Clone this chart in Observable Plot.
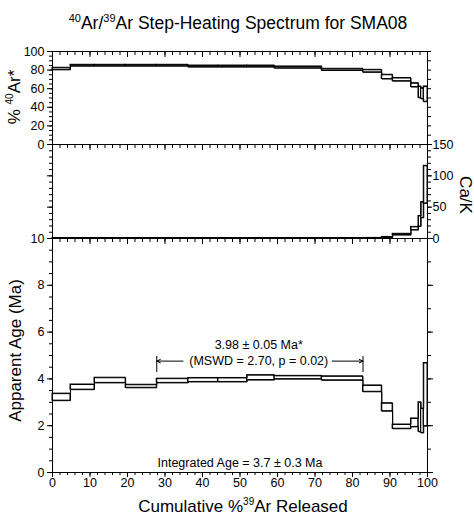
<!DOCTYPE html>
<html><head><meta charset="utf-8">
<script src="https://cdn.jsdelivr.net/npm/d3@7"></script>
<script src="https://cdn.jsdelivr.net/npm/@observablehq/plot@0.6"></script>
<style>
body{margin:0;background:#fff;}
#chart{position:relative;width:474px;height:517px;}
#chart svg{position:absolute;left:0;overflow:visible;background:none;}
</style></head><body><div id="chart"></div>
<script>
// ---- data ----
const stepStart = [0, 4.8, 11.2, 19.5, 27.8, 36.2, 44.2, 51.9, 59.2, 71.8, 82.8, 87.8, 90.7, 95.6, 97.6, 98.3, 99.0];
const ageHi = [3.37, 3.76, 4.05, 3.75, 4.01, 4.04, 4.04, 4.16, 4.13, 4.11, 3.72, 2.96, 2.05, 2.31, 3.00, 2.73, 4.68];
const ageLo = [3.07, 3.54, 3.83, 3.62, 3.83, 3.87, 3.87, 3.95, 3.99, 3.94, 3.45, 2.62, 1.87, 1.95, 1.74, 1.69, 1.98];
const radHi = [82.5, 85.7, 85.7, 85.7, 85.7, 84.9, 84.9, 84.9, 83.9, 81.4, 80.3, 75.0, 71.5, 65.9, 62.4, 60.5, 62.4];
const radLo = [80.3, 84.2, 84.2, 84.2, 84.2, 83.2, 83.2, 83.2, 82.0, 79.6, 77.6, 70.4, 68.1, 61.8, 50.2, 49.0, 46.0];
const caHi  = [0.8, 0.8, 0.8, 0.8, 0.8, 0.8, 0.8, 0.8, 0.8, 0.8, 0.9, 2.5, 7.5, 18.5, 36, 58, 116];
const caLo  = [0.2, 0.2, 0.2, 0.2, 0.2, 0.2, 0.2, 0.2, 0.2, 0.2, 0.3, 1.0, 5.5, 13.5, 19, 33, 56];
const plateauRange = [27.8, 82.8];
const plateauLabel = ["3.98 \u00b1 0.05 Ma*", "(MSWD = 2.70, p = 0.02)"];
const integratedLabel = "Integrated Age = 3.7 \u00b1 0.3 Ma";
const xTicks = d3.range(0, 101, 10);
const xMinor = d3.range(0, 101, 2);
const radTicks = [0, 20, 40, 60, 80, 100];
const caTicks = [0, 50, 100, 150];
const ageTicks = [0, 2, 4, 6, 8, 10];

// ---- helpers ----
const font = '"Liberation Sans", Arial, Helvetica, sans-serif';
const container = document.getElementById("chart");
const stepEnd = stepStart.map((s, i) => i < stepStart.length - 1 ? stepStart[i + 1] : 100);

function rows(hi, lo) {
  return stepStart.map((s, i) => ({x1: s, x2: stepEnd[i], hi: hi[i], lo: lo[i]}));
}
function stepMarks(hi, lo) {
  const r = rows(hi, lo);
  const up = r.map(d => ({x: d.x1, y: d.hi})).concat([{x: 100, y: hi[hi.length - 1]}]);
  const dn = r.map(d => ({x: d.x1, y: d.lo})).concat([{x: 100, y: lo[lo.length - 1]}]);
  return [
    Plot.rect(r, {x1: "x1", x2: "x2", y1: "lo", y2: "hi", fill: "none", stroke: "black", strokeWidth: 1}),
    Plot.line(up, {x: "x", y: "y", curve: "step-after", stroke: "black", strokeWidth: 1}),
    Plot.line(dn, {x: "x", y: "y", curve: "step-after", stroke: "black", strokeWidth: 1})
  ];
}
const noText = () => "";
function topTicks() {
  return [
    Plot.axisX(xMinor, {anchor: "top", tickSize: -3, tickFormat: noText, label: null}),
    Plot.axisX(xTicks, {anchor: "top", tickSize: -5, tickFormat: noText, label: null})
  ];
}
function panel(top, height, mt, mb, yDomain, marks) {
  const svg = Plot.plot({
    width: 474, height, marginLeft: 52, marginRight: 47, marginTop: mt, marginBottom: mb,
    x: {domain: [0, 100]}, y: {domain: yDomain},
    style: {fontFamily: font, fontSize: "12.5px", color: "black", background: "transparent", overflow: "visible"},
    marks
  });
  svg.style.top = top + "px";
  container.append(svg);
  return svg;
}

// ---- top panel: % 40Ar* ----
panel(41, 110, 10, 7, [0, 100], [
  ...stepMarks(radHi, radLo),
  Plot.axisY(d3.range(0, 101, 5), {anchor: "left", tickSize: 3, tickFormat: noText, label: null}),
  Plot.axisY(radTicks, {anchor: "left", tickSize: 5, tickPadding: 3, label: null}),
  Plot.axisY(d3.range(0, 101, 10), {anchor: "right", tickSize: 3, tickFormat: noText, label: null}),
  ...topTicks(),
  Plot.frame({stroke: "black"})
]);

// ---- middle panel: Ca/K ----
panel(134, 114, 10, 10, [0, 150], [
  ...stepMarks(caHi, caLo),
  Plot.axisY(d3.range(0, 151, 10), {anchor: "left", tickSize: 3, tickFormat: noText, label: null}),
  Plot.axisY(caTicks, {anchor: "left", tickSize: 5, tickFormat: noText, label: null}),
  Plot.axisY(d3.range(0, 151, 10), {anchor: "right", tickSize: 3, tickFormat: noText, label: null}),
  Plot.axisY(caTicks, {anchor: "right", tickSize: 4, tickPadding: 1, label: null}),
  ...topTicks(),
  Plot.frame({stroke: "black"})
]);

// ---- bottom panel: apparent age ----
panel(228, 289, 10, 45, [0, 10], [
  ...stepMarks(ageHi, ageLo),
  Plot.ruleX(plateauRange, {y1: 4.27, y2: 4.96, stroke: "black"}),
  Plot.arrow([{a: 34.8, b: plateauRange[0]}, {a: 74.6, b: plateauRange[1]}],
    {x1: "a", x2: "b", y1: () => 4.76, y2: () => 4.76, headLength: 6, headAngle: 50, strokeWidth: 1, stroke: "black"}),
  Plot.text([{t: plateauLabel[0], y: 5.43}, {t: plateauLabel[1], y: 4.76}],
    {x: () => 55, y: "y", text: "t", fontSize: 12.5, fill: "black"}),
  Plot.text([integratedLabel], {x: () => 50, y: () => 0.4, text: d => d, fontSize: 12.5, fill: "black"}),
  Plot.axisY(d3.range(0, 10.01, 0.5), {anchor: "left", tickSize: 3, tickFormat: noText, label: null}),
  Plot.axisY(ageTicks, {anchor: "left", tickSize: 5, tickPadding: 3, label: null}),
  Plot.axisY(d3.range(0, 11, 1), {anchor: "right", tickSize: 3, tickFormat: noText, label: null}),
  Plot.axisY(ageTicks, {anchor: "right", tickSize: 5, tickFormat: noText, label: null}),
  ...topTicks(),
  Plot.axisX(xMinor, {anchor: "bottom", tickSize: 3, tickFormat: noText, label: null}),
  Plot.axisX(xTicks, {anchor: "bottom", tickSize: 5, tickPadding: 1, label: null}),
  Plot.frame({stroke: "black"})
]);

// ---- titles / axis labels with superscripts ----
const ov = d3.select(container).append("svg")
  .attr("width", 474).attr("height", 517)
  .style("top", "0px").style("pointer-events", "none")
  .attr("font-family", font).attr("fill", "black");

function supText(g, parts, size, supSize, rise) {
  const t = g.append("text").attr("font-size", size);
  parts.forEach(p => {
    if (p.sup) t.append("tspan").attr("font-size", supSize).attr("dy", -rise).text(p.sup);
    else t.append("tspan").attr("dy", p.after ? rise : 0).text(p.t);
  });
  return t;
}
// title
supText(ov.append("g").attr("transform", "translate(238,29)"),
  [{sup: "40"}, {t: "Ar/", after: true}, {sup: "39"}, {t: "Ar Step-Heating Spectrum for SMA08", after: true}],
  17.5, 11, 7).attr("text-anchor", "middle");
// y label top
supText(ov.append("g").attr("transform", "translate(20,97) rotate(-90)"),
  [{t: "% "}, {sup: "40"}, {t: "Ar*", after: true}], 17, 10, 7).attr("text-anchor", "middle");
// y label bottom
ov.append("text").attr("transform", "translate(20.5,350.5) rotate(-90)")
  .attr("text-anchor", "middle").attr("font-size", 17).text("Apparent Age (Ma)");
// Ca/K
ov.append("text").attr("transform", "translate(460,195) rotate(90)")
  .attr("text-anchor", "middle").attr("font-size", 17).text("Ca/K");
// x label
supText(ov.append("g").attr("transform", "translate(243,511.5)"),
  [{t: "Cumulative %"}, {sup: "39"}, {t: "Ar Released", after: true}], 17, 10, 7).attr("text-anchor", "middle");
</script></body></html>
